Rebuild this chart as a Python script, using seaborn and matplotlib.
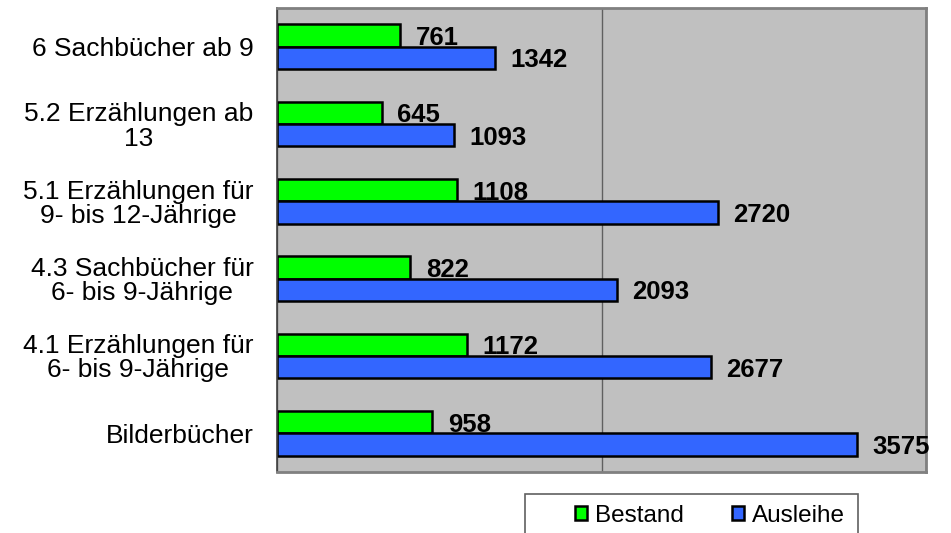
import numpy as np
import pandas as pd
import matplotlib
matplotlib.use("Agg")
import matplotlib.pyplot as plt
import seaborn as sns
from matplotlib.patches import Patch, Rectangle

# ---------- data ----------
categories = ["6 Sachbücher ab 9",
              "5.2 Erzählungen ab\n13",
              "5.1 Erzählungen für\n9- bis 12-Jährige",
              "4.3 Sachbücher für\n6- bis 9-Jährige",
              "4.1 Erzählungen für\n6- bis 9-Jährige",
              "Bilderbücher"]
bestand = [761, 645, 1108, 822, 1172, 958]
ausleihe = [1342, 1093, 2720, 2093, 2677, 3575]
series = ["Bestand", "Ausleihe"]
colors = ["#00FF00", "#3366FF"]

df = pd.DataFrame({
    "cat": categories * 2,
    "val": bestand + ausleihe,
    "serie": [series[0]] * len(categories) + [series[1]] * len(categories),
})

# ---------- style ----------
sns.set_style("white")
plt.rcParams["font.family"] = ["Liberation Sans", "DejaVu Sans"]
plt.rcParams["text.color"] = "black"
plt.rcParams["ytick.color"] = "black"
plt.rcParams["ytick.labelcolor"] = "black"

W, H = 951, 533
fig = plt.figure(figsize=(W / 100, H / 100), dpi=100)
ax = fig.add_axes([277 / W, 1 - 472 / H, (926 - 277) / W, (472 - 8) / H])
ax.set_facecolor("#C0C0C0")

sns.barplot(data=df, x="val", y="cat", hue="serie", orient="h",
            palette=colors, saturation=1, width=0.58, dodge=True, ax=ax,
            edgecolor="black", linewidth=1.8, legend=False, errorbar=None)

for cont in ax.containers:
    labels = ax.bar_label(cont, fmt="%d", padding=11, fontsize=18.5,
                          fontweight="bold", color="black")
    for t in labels:
        t.set_va("center_baseline")

# x axis: only the 2000 gridline, no labels
ax.set_xlim(0, 4000)
ax.set_xticks([0, 2000, 4000])
ax.set_xticklabels([])
ax.tick_params(axis="x", length=0)
ax.xaxis.grid(True, color="#606060", linewidth=1)
ax.set_axisbelow(True)

# y axis: labels at centres, tick marks at boundaries
ax.set_ylim(len(categories) - 0.5, -0.5)
ax.set_yticks(np.arange(len(categories)))
ax.set_yticklabels(categories, fontsize=19, multialignment="center",
                   linespacing=1.0, color="black")
ax.tick_params(axis="y", which="major", length=0, pad=17)
ax.set_yticks(np.arange(len(categories) + 1) - 0.5, minor=True)
ax.tick_params(axis="y", which="minor", length=6, width=1.2, color="#404040")
ax.set_xlabel("")
ax.set_ylabel("")

for s in ["top", "right", "bottom"]:
    ax.spines[s].set_color("#808080")
    ax.spines[s].set_linewidth(2)
ax.spines["left"].set_color("#404040")
ax.spines["left"].set_linewidth(1.2)

# ---------- legend ----------
handles = [Patch(facecolor=c, edgecolor="black", linewidth=1.8) for c in colors]
fig.legend(handles, series, loc="center", ncol=2, frameon=False,
           bbox_to_anchor=(710 / W, 1 - 516 / H), fontsize=17.5,
           handlelength=0.5, handleheight=0.5, handletextpad=0.3,
           columnspacing=2.0)
fig.patches.append(Rectangle((525 / W, 1 - 545 / H), 333 / W, 51 / H,
                             transform=fig.transFigure, facecolor="none",
                             edgecolor="#606060", linewidth=1.2))

fig.savefig("out.png", dpi=100)
